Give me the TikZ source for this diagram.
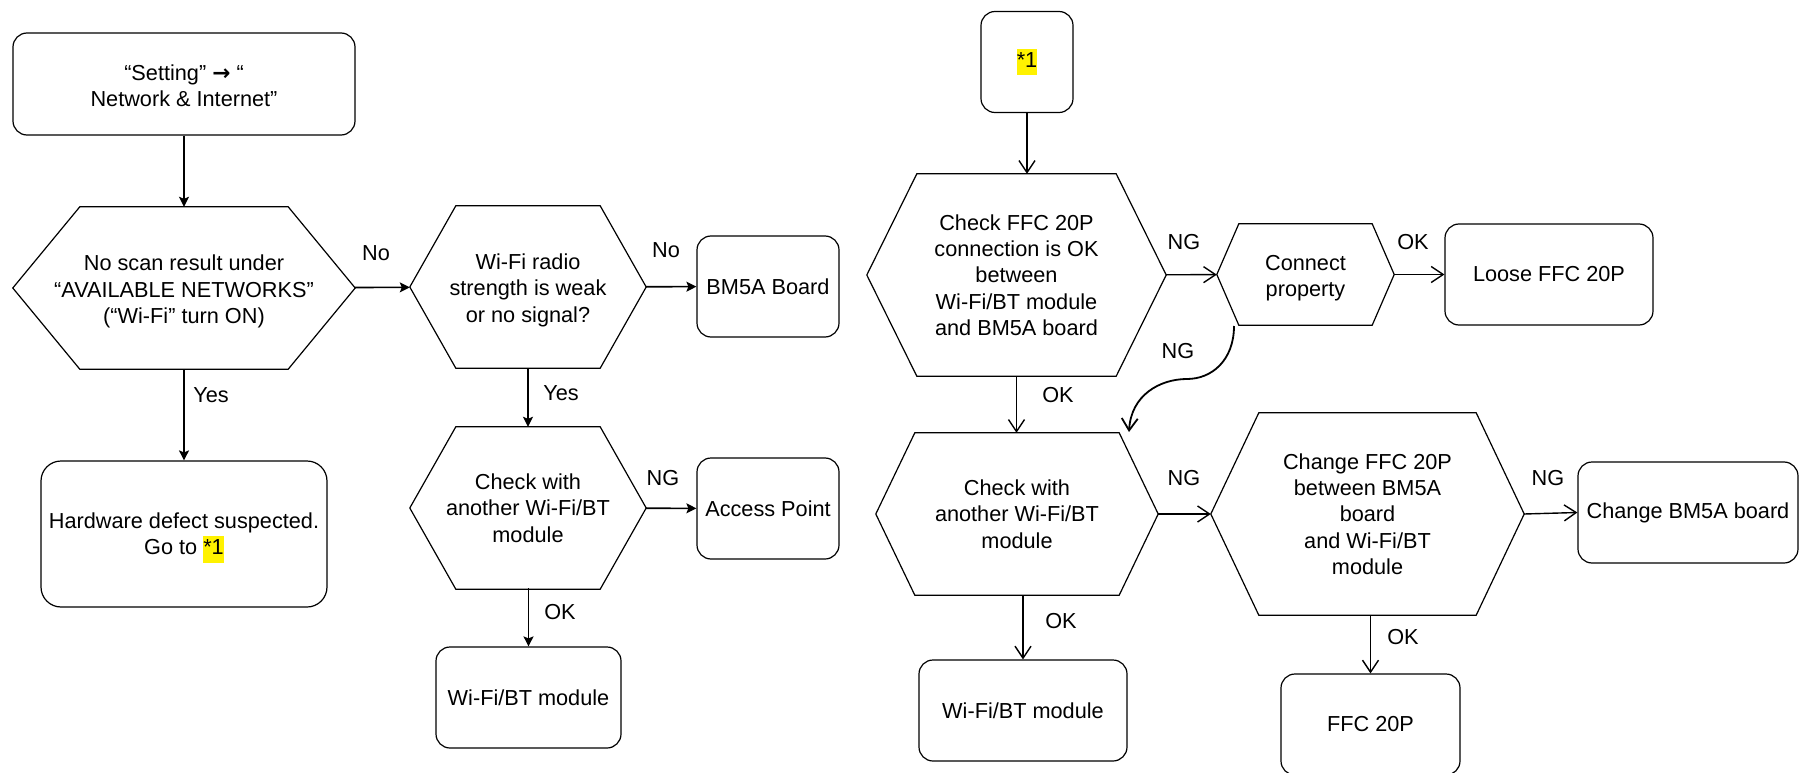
\documentclass[tikz,border=0pt]{standalone}
\usepackage{fontspec}
\setmainfont{Liberation Sans}
\newfontfamily\symfont{DejaVu Sans}
\usetikzlibrary{arrows.meta}
\newcommand{\hlyel}[1]{{\setlength{\fboxsep}{0pt}\colorbox{yellow}{\strut #1}}}
\newcommand{\topgap}[1]{\rule{0pt}{#1}}

\begin{document}
\begin{tikzpicture}[x=1pt,y=-1pt,
  every node/.style={font=\fontsize{21.7pt}{26.3pt}\selectfont},
  rbox/.style={draw,rounded corners=14pt,line width=1.2pt,align=center,inner sep=0pt},
  hexq/.style={align=center,inner sep=0pt},
  hexline/.style={line width=1.2pt},
  arrL/.style={-{Stealth[length=10pt,width=10pt,inset=2pt]},line width=1.6pt},
  arrR/.style={-{Straight Barb[length=12pt,width=16pt]},line width=1.4pt},
  lbl/.style={inner sep=0pt}]
\useasboundingbox (0,0) rectangle (1800,773);

% left flow
\node[rbox,minimum width=342pt,minimum height=102pt] (set) at (184,84) {\topgap{19.5pt}“Setting” {\symfont\bfseries →} “\\Network \& Internet”};
\node[hexq,minimum width=342pt,minimum height=162pt] (q1) at (184,288) {\topgap{23pt}No scan result under\\“AVAILABLE NETWORKS”\\(“Wi-Fi” turn ON)};
\node[hexq,minimum width=236pt,minimum height=162pt] (q2) at (528,287) {\topgap{22pt}Wi-Fi radio\\strength is weak\\or no signal?};
\node[rbox,minimum width=142pt,minimum height=101pt] (bm) at (768,286.5) {BM5A Board};
\node[rbox,rounded corners=20pt,minimum width=286pt,minimum height=146pt] (hw) at (184,534) {\topgap{23pt}Hardware defect suspected.\\Go to \hlyel{*1}};
\node[hexq,minimum width=236pt,minimum height=162pt] (q3) at (528,508) {Check with\\another Wi-Fi/BT\\module};
\node[rbox,minimum width=142pt,minimum height=101pt] (ap) at (768,508.5) {Access Point};
\node[rbox,minimum width=185pt,minimum height=101pt] (wb1) at (528.5,697.5) {Wi-Fi/BT module};

% right flow
\node[rbox,minimum width=92pt,minimum height=101pt] (s1) at (1027,62) {\hlyel{*1}};
\node[hexq,minimum width=299pt,minimum height=202pt] (qa) at (1016.5,275) {Check FFC 20P\\connection is OK\\between\\Wi-Fi/BT module\\and BM5A board};
\node[hexq,minimum width=177pt,minimum height=101pt] (qb) at (1305.5,274.5) {\topgap{23pt}Connect\\property};
\node[rbox,minimum width=208pt,minimum height=101pt] (lf) at (1549,274.5) {Loose FFC 20P};
\node[hexq,minimum width=282pt,minimum height=162pt] (qc) at (1017,514) {Check with\\another Wi-Fi/BT\\module};
\node[hexq,minimum width=313pt,minimum height=202pt] (qd) at (1367.5,514) {Change FFC 20P\\between BM5A\\board\\and Wi-Fi/BT\\module};
\node[rbox,minimum width=220pt,minimum height=101pt] (cb) at (1688,512.5) {Change BM5A board};
\node[rbox,minimum width=208pt,minimum height=101pt] (wb2) at (1023,710.5) {Wi-Fi/BT module};
\node[rbox,minimum width=179pt,minimum height=101pt] (ffc) at (1370.5,724.5) {FFC 20P};

% hexagon outlines
\foreach \n/\d in {q1/67,q2/46,q3/46,qa/50,qb/22,qc/39,qd/48}
  \draw[hexline] (\n.west) -- ([xshift=\d pt]\n.north west) -- ([xshift=-\d pt]\n.north east) -- (\n.east)
    -- ([xshift=-\d pt]\n.south east) -- ([xshift=\d pt]\n.south west) -- cycle;

\draw[arrL] (set) -- (q1);
\draw[arrL] (q1) -- (q2);
\draw[arrL] (q2) -- (bm);
\draw[arrL] (q1) -- (hw);
\draw[arrL] (q2) -- (q3);
\draw[arrL] (q3) -- (ap);
\draw[arrL] (q3.south) -- (q3.south -| wb1.north) -- (wb1.north);

\draw[arrR] (s1.south) -- (s1.south |- qa.north);
\draw[arrR] (qa) -- (qb);
\draw[arrR] (qb) -- (lf);
\draw[arrR] (qa.south) -- (qa.south |- qc.north);
\draw[arrR] (qc) -- (qd);
\draw[arrR] (qd.east) -- (cb.west);
\draw[arrR] (wb2.north |- qc.south) -- (wb2.north);
\draw[arrR] (ffc.north |- qd.south) -- (ffc.north);

% loop back from Connect property
\coordinate (ng1) at (1234,326);
\coordinate (ng2) at (1129,432);
\draw[arrR,line width=1.8pt] (ng1) .. controls (1234,360) and (1212,379) .. (1187,379)
  .. controls (1160,379) and (1131,395) .. (ng2);

\node[lbl] (no1) at (376,253) {No};
\node[lbl] (no2) at (666,250) {No};
\node[lbl] (yes1) at (211,395) {Yes};
\node[lbl] (yes2) at (561,393) {Yes};
\node[lbl] (ng3) at (663,478) {NG};
\node[lbl] (ok3) at (560,612) {OK};
\node[lbl] (nga) at (1184,242) {NG};
\node[lbl] (okb) at (1413,242) {OK};
\node[lbl] (ngb) at (1178,351) {NG};
\node[lbl] (oka) at (1058,395) {OK};
\node[lbl] (ngc) at (1184,478) {NG};
\node[lbl] (ngd) at (1548,478) {NG};
\node[lbl] (okc) at (1061,621) {OK};
\node[lbl] (okd) at (1403,637) {OK};
\end{tikzpicture}
\end{document}
